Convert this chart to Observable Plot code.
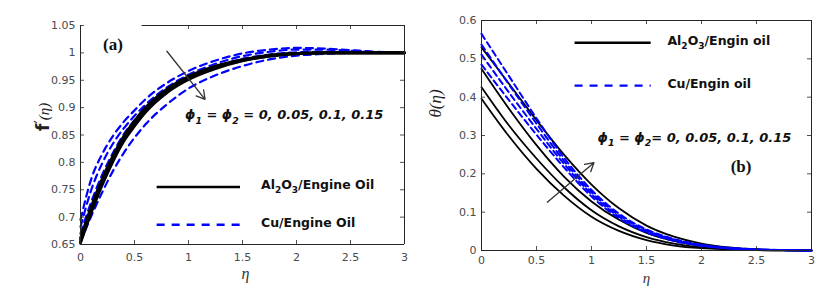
<!DOCTYPE html>
<html>
<head>
<meta charset="utf-8">
<script src="https://cdn.jsdelivr.net/npm/d3@7"></script>
<script src="https://cdn.jsdelivr.net/npm/@observablehq/plot@0.6"></script>
<style>
  body { margin: 0; background: #fff; }
  #wrap { position: relative; width: 838px; height: 300px; overflow: hidden; }
  #wrap > svg { position: absolute; top: 0; }
</style>
</head>
<body>
<div id="wrap"></div>
<script>
// ---------- ticks ----------
const xTicks = [0, 0.5, 1, 1.5, 2, 2.5, 3];
const yTicksA = [0.65, 0.7, 0.75, 0.8, 0.85, 0.9, 0.95, 1, 1.05];
const yTicksB = [0, 0.1, 0.2, 0.3, 0.4, 0.5, 0.6];
const phiValues = [0, 0.05, 0.1, 0.15];

// ---------- panel (a): f'(eta) ----------
const etaA = [0, 0.1, 0.2, 0.3, 0.4, 0.5, 0.6, 0.8, 1.0, 1.25, 1.5, 1.75, 2.0, 2.25, 2.5, 2.75, 3.0];
const fA_Al2O3_phi0    = [0.662, 0.720, 0.770, 0.812, 0.848, 0.876, 0.900, 0.934, 0.957, 0.976, 0.988, 0.996, 0.999, 1.000, 1.000, 1.000, 1.000];
const fA_Al2O3_phi005  = [0.659, 0.717, 0.767, 0.810, 0.846, 0.874, 0.898, 0.933, 0.956, 0.975, 0.987, 0.995, 0.999, 1.000, 1.000, 1.000, 1.000];
const fA_Al2O3_phi01   = [0.655, 0.712, 0.762, 0.805, 0.842, 0.870, 0.894, 0.930, 0.953, 0.973, 0.986, 0.994, 0.999, 1.000, 1.000, 1.000, 1.000];
const fA_Al2O3_phi015  = [0.652, 0.708, 0.758, 0.801, 0.838, 0.866, 0.891, 0.927, 0.951, 0.971, 0.985, 0.994, 0.998, 1.000, 1.000, 1.000, 1.000];
const fA_Cu_phi0       = [0.695, 0.770, 0.815, 0.848, 0.874, 0.895, 0.915, 0.945, 0.967, 0.986, 0.999, 1.006, 1.009, 1.008, 1.005, 1.002, 1.000];
const fA_Cu_phi005     = [0.682, 0.750, 0.798, 0.834, 0.862, 0.885, 0.905, 0.937, 0.960, 0.980, 0.994, 1.002, 1.006, 1.006, 1.004, 1.001, 1.000];
const fA_Cu_phi01      = [0.670, 0.728, 0.777, 0.817, 0.851, 0.877, 0.899, 0.932, 0.955, 0.975, 0.989, 0.997, 1.001, 1.002, 1.001, 1.000, 1.000];
const fA_Cu_phi015     = [0.655, 0.702, 0.745, 0.784, 0.817, 0.845, 0.869, 0.906, 0.935, 0.959, 0.976, 0.988, 0.995, 0.998, 1.000, 1.000, 1.000];

// ---------- panel (b): theta(eta) ----------
const etaB = [0, 0.25, 0.5, 0.75, 1.0, 1.25, 1.5, 1.75, 2.0, 2.25, 2.5, 2.75, 3.0];
const tB_Al2O3_phi0    = [0.396, 0.298, 0.213, 0.143, 0.088, 0.051, 0.027, 0.013, 0.006, 0.003, 0.001, 0.000, 0.000];
const tB_Al2O3_phi005  = [0.426, 0.326, 0.240, 0.165, 0.105, 0.063, 0.035, 0.018, 0.008, 0.004, 0.002, 0.001, 0.000];
const tB_Al2O3_phi01   = [0.474, 0.370, 0.275, 0.193, 0.128, 0.080, 0.046, 0.025, 0.012, 0.005, 0.002, 0.001, 0.000];
const tB_Al2O3_phi015  = [0.530, 0.435, 0.340, 0.250, 0.172, 0.110, 0.065, 0.036, 0.018, 0.008, 0.003, 0.001, 0.000];
const tB_Cu_phi0       = [0.485, 0.392, 0.302, 0.217, 0.141, 0.084, 0.047, 0.025, 0.012, 0.005, 0.002, 0.001, 0.000];
const tB_Cu_phi005     = [0.511, 0.412, 0.317, 0.226, 0.147, 0.088, 0.050, 0.027, 0.013, 0.006, 0.002, 0.001, 0.000];
const tB_Cu_phi01      = [0.537, 0.433, 0.331, 0.234, 0.152, 0.092, 0.053, 0.029, 0.014, 0.006, 0.003, 0.001, 0.000];
const tB_Cu_phi015     = [0.565, 0.455, 0.345, 0.242, 0.158, 0.096, 0.055, 0.030, 0.015, 0.007, 0.003, 0.001, 0.000];

// ---------- texts ----------
const legendLabelsA = ["Al_2O_3/Engine Oil", "Cu/Engine Oil"];
const legendLabelsB = ["Al_2O_3/Engin oil", "Cu/Engin oil"];
const phiTextA = "ϕ_1 = ϕ_2 = 0, 0.05, 0.1, 0.15";
const phiTextB = "ϕ_1 = ϕ_2= 0, 0.05, 0.1, 0.15";
const tagA = "(a)", tagB = "(b)";
const xLabel = "η";
const yLabelA = "f′(η)";
const yLabelB = "θ(η)";

// ---------- annotation placement (data coordinates) ----------
const annA = {
  legendX: [0.705, 1.477], legendY: [0.755, 0.686], legendTextX: 1.671,
  phiX: 0.968, phiY: 0.886, tagX: 0.30, tagY: 1.016,
  arrow: {x1: 0.80, y1: 1.003, x2: 1.153, y2: 0.915},
  topBorderStart: 0.57
};
const annB = {
  legendX: [0.846, 1.538], legendY: [0.542, 0.430], legendTextX: 1.69,
  phiX: 1.055, phiY: 0.2935, tagX: 2.36, tagY: 0.219,
  arrow: {x1: 0.598, y1: 0.126, x2: 1.022, y2: 0.229}
};

// ---------- build tables ----------
function table(eta, fluid, list) {
  return list.flatMap((vals, k) => vals.map((v, i) => ({eta: eta[i], v, phi: phiValues[k], fluid})));
}
const rowsA = [
  ...table(etaA, "Al2O3", [fA_Al2O3_phi0, fA_Al2O3_phi005, fA_Al2O3_phi01, fA_Al2O3_phi015]),
  ...table(etaA, "Cu", [fA_Cu_phi0, fA_Cu_phi005, fA_Cu_phi01, fA_Cu_phi015])
];
const rowsB = [
  ...table(etaB, "Al2O3", [tB_Al2O3_phi0, tB_Al2O3_phi005, tB_Al2O3_phi01, tB_Al2O3_phi015]),
  ...table(etaB, "Cu", [tB_Cu_phi0, tB_Cu_phi005, tB_Cu_phi01, tB_Cu_phi015])
];

const axisColor = "#262626";
const tickColor = "#4a4a4a";
const blue = "#0000ff";
const fmt = d => String(+d.toFixed(2));
const sans = "DejaVu Sans, Liberation Sans, Arial, sans-serif";
const serif = "Liberation Serif, Times New Roman, serif";

function panel(cfg) {
  const {width, mL, mR, mT, mB, yDomain, yTicks, rows, ann, legendLabels, phiText, tag,
         blackW, blueW, dash, tickPad, xLabDy, xLabSize, yLab, yLabDx, yLabDy, blueFirst, topStart, xLabDx} = cfg;
  const pw = width - mL - mR, ph = 300 - mT - mB;
  const black = rows.filter(d => d.fluid === "Al2O3");
  const cu = rows.filter(d => d.fluid === "Cu");
  const blackMark = Plot.line(black, {x: "eta", y: "v", z: "phi", stroke: "#000", strokeWidth: blackW, curve: "monotone-x"});
  const blueMark = Plot.line(cu, {x: "eta", y: "v", z: "phi", stroke: blue, strokeWidth: blueW, strokeDasharray: dash, curve: "monotone-x"});
  const topTicks = xTicks.filter(t => topStart == null || t >= topStart);
  const legend = [
    {x1: ann.legendX[0], x2: ann.legendX[1], y: ann.legendY[0], label: legendLabels[0], fluid: "Al2O3"},
    {x1: ann.legendX[0], x2: ann.legendX[1], y: ann.legendY[1], label: legendLabels[1], fluid: "Cu"}
  ];
  return Plot.plot({
    width, height: 300,
    marginLeft: mL, marginRight: mR, marginTop: mT, marginBottom: mB,
    style: {fontFamily: sans, background: "transparent", overflow: "visible"},
    x: {domain: [0, 3]},
    y: {domain: yDomain},
    marks: [
      ...(blueFirst ? [blueMark, blackMark] : [blackMark, blueMark]),
      // border
      Plot.ruleX([0, 3], {stroke: axisColor, strokeWidth: 1}),
      Plot.ruleY([yDomain[0]], {stroke: axisColor, strokeWidth: 1}),
      Plot.ruleY([yDomain[1]], {x1: topStart == null ? 0 : topStart, x2: 3, stroke: axisColor, strokeWidth: 1}),
      // inward ticks
      Plot.ruleY(yTicks, {stroke: axisColor, strokeWidth: 0.8, insetRight: pw - 4}),
      Plot.ruleY(yTicks, {stroke: axisColor, strokeWidth: 0.8, insetLeft: pw - 4}),
      Plot.ruleX(xTicks, {stroke: axisColor, strokeWidth: 0.8, insetTop: ph - 4}),
      Plot.ruleX(topTicks, {stroke: axisColor, strokeWidth: 0.8, insetBottom: ph - 4}),
      // tick labels
      Plot.axisX({ticks: xTicks, tickSize: 0, tickPadding: tickPad, tickFormat: fmt, label: null,
                  fontSize: 11, fill: tickColor, fontFamily: sans}),
      Plot.axisY({ticks: yTicks, tickSize: 0, tickPadding: 5, tickFormat: fmt, label: null,
                  fontSize: 11, fill: tickColor, fontFamily: sans}),
      // axis titles
      Plot.text([xLabel], {text: d => d, frameAnchor: "bottom", dy: xLabDy, dx: xLabDx, fontFamily: serif,
                  fontStyle: "italic", fontSize: xLabSize, fill: "#333"}),
      Plot.text([yLab], {text: d => d, frameAnchor: "left", dx: yLabDx, dy: yLabDy, rotate: -90,
                  fontFamily: serif, fontStyle: "italic", fontSize: 17, fill: "#222"}),
      // legend
      Plot.link(legend.filter(d => d.fluid === "Al2O3"), {x1: "x1", x2: "x2", y1: "y", y2: "y",
                  stroke: "#000", strokeWidth: 2.4}),
      Plot.link(legend.filter(d => d.fluid === "Cu"), {x1: "x1", x2: "x2", y1: "y", y2: "y",
                  stroke: blue, strokeWidth: 2.4, strokeDasharray: "8,7"}),
      Plot.text(legend, {x: () => ann.legendTextX, y: "y", text: "label", textAnchor: "start", dy: -2,
                  fontWeight: "bold", fontSize: 12.5, fontFamily: sans, fill: "#111"}),
      // annotations
      Plot.text([phiText], {x: () => ann.phiX, y: () => ann.phiY, text: d => d, textAnchor: "start",
                  fontWeight: "bold", fontStyle: "italic", fontSize: 13, fontFamily: sans, fill: "#111"}),
      Plot.text([tag], {x: () => ann.tagX, y: () => ann.tagY, text: d => d, fontWeight: "bold",
                  fontSize: 17, fontFamily: serif, fill: "#111"}),
      Plot.arrow([ann.arrow], {x1: "x1", y1: "y1", x2: "x2", y2: "y2", stroke: "#333",
                  strokeWidth: 1.3, headLength: 11})
    ]
  });
}

const svgA = panel({
  width: 420, mL: 80, mR: 16, mT: 25, mB: 56, yDomain: [0.65, 1.05], yTicks: yTicksA, rows: rowsA,
  ann: annA, legendLabels: legendLabelsA, phiText: phiTextA, tag: tagA,
  blackW: 2.6, blueW: 2.2, dash: "7,5", tickPad: 9, xLabDy: 34, xLabSize: 16, xLabDx: 3, yLab: yLabelA, yLabDx: -37, yLabDy: -4,
  blueFirst: true, topStart: annA.topBorderStart
});
const svgB = panel({
  width: 418, mL: 61, mR: 27, mT: 20, mB: 50, yDomain: [0, 0.6], yTicks: yTicksB, rows: rowsB,
  ann: annB, legendLabels: legendLabelsB, phiText: phiTextB, tag: tagB,
  blackW: 1.8, blueW: 2.0, dash: "6,4", tickPad: 6, xLabDy: 32, xLabSize: 15, xLabDx: 0, yLab: yLabelB, yLabDx: -46, yLabDy: -18,
  blueFirst: false, topStart: null
});
svgA.style.left = "0px";
svgB.style.left = "420px";
const wrap = document.getElementById("wrap");
wrap.appendChild(svgA);
wrap.appendChild(svgB);

// subscripts: "_x" -> subscript tspan
function richify(svg) {
  d3.select(svg).selectAll("text").each(function () {
    const s = this.textContent;
    if (!s.includes("_")) return;
    const fs = parseFloat(getComputedStyle(this).fontSize) || 12;
    const el = d3.select(this);
    el.text(null);
    const parts = [];
    let buf = "";
    for (let i = 0; i < s.length; i++) {
      if (s[i] === "_") { if (buf) parts.push([buf, false]); buf = ""; parts.push([s[i + 1], true]); i++; }
      else buf += s[i];
    }
    if (buf) parts.push([buf, false]);
    let cur = 0;
    const shift = fs * 0.32;
    for (const [t, sub] of parts) {
      const ts = el.append("tspan").text(t);
      const target = sub ? shift : 0;
      if (target !== cur) ts.attr("dy", target - cur);
      cur = target;
      if (sub) ts.attr("font-size", fs * 0.72);
    }
  });
}
richify(svgA);
richify(svgB);

// y label of (a): upright sans "f" with prime, italic "(η)"
d3.select(svgA).selectAll("text").filter(function () { return this.textContent === yLabelA; }).each(function () {
  const el = d3.select(this);
  el.text(null);
  el.append("tspan").text("f").attr("font-family", sans).attr("font-style", "normal").attr("font-weight", "bold").attr("font-size", 17);
  el.append("tspan").text("′").attr("font-family", sans).attr("font-style", "normal").attr("font-size", 15).attr("dy", -3);
  el.append("tspan").text("(η)").attr("dy", 3).attr("font-size", 15);
});
</script>
</body>
</html>
